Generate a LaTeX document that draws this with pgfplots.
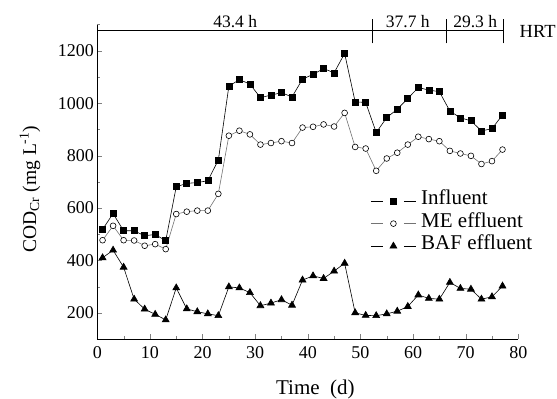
\documentclass[border=0pt]{standalone}
\usepackage{fontspec}
\setmainfont{Liberation Serif}
\usepackage{pgfplots}
\pgfplotsset{compat=1.18}
\begin{document}
\begin{tikzpicture}
\path[use as bounding box] (-97.3pt,-60pt) rectangle (459.7pt,339pt);
\begin{axis}[
  scale only axis, width=421pt, height=314.4pt,
  xmin=0, xmax=80, ymin=100, ymax=1300,
  axis lines*=left, tick align=inside, clip=false,
  xtick={0,10,...,80}, minor xtick={5,15,...,75},
  ytick={200,400,...,1200}, minor ytick={100,300,...,1300},
  major tick length=5pt, minor tick length=3pt,
  /pgf/number format/assume math mode=true,
  /pgf/number format/1000 sep={},
  tick label style={font=\fontsize{18}{18}\selectfont},
  xticklabel style={yshift=-4pt},
  xlabel={Time\enspace(d)},
  ylabel={COD\textsubscript{Cr} (mg L\textsuperscript{-1})},
  xlabel style={font=\fontsize{21}{21}\selectfont, at={(axis description cs:0.518,-0.175)}, anchor=base},
  ylabel style={font=\fontsize{19.5}{19.5}\selectfont, at={(axis description cs:-0.16,0.477)}, anchor=center},
  legend style={at={(axis cs:51.9,670)}, anchor=north west, draw=none, fill=none,
    font=\fontsize{21}{21}\selectfont, inner sep=0pt, row sep=0pt,
    nodes={inner sep=0pt, text height=15pt, text depth=7.5pt},
    cells={anchor=west}},
  legend image code/.code={
    \draw[mark=none] (0pt,0pt) -- (12pt,0pt) (33pt,0pt) -- (45pt,0pt);
    \draw plot[only marks] coordinates {(22.5pt,0pt)};
    \path (50pt,0pt);
  },
]
\addplot[black, line width=0.6pt, mark=square*, mark size=3pt, mark options={solid}] coordinates {
(1,518) (3,579) (5,513) (7,513) (9,494) (11,499) (13,475) (15,681) (17,694) (19,697)
(21,704) (23,783) (25,1065) (27,1090) (29,1073) (31,1021) (33,1031) (35,1040) (37,1024) (39,1092)
(41,1110) (43,1132) (45,1116) (47,1190) (49,1005) (51,1003) (53,888) (55,945) (57,977) (59,1018)
(61,1060) (63,1050) (65,1044) (67,970) (69,944) (71,933) (73,894) (75,903) (77,955)};
\addlegendentry{Influent}
\addplot[black!55, line width=0.6pt, mark=*, mark size=2.9pt, mark options={fill=white, draw=black}] coordinates {
(1,477) (3,532) (5,477) (7,476) (9,456) (11,462) (13,443) (15,577) (17,586) (19,590)
(21,590) (23,654) (25,876) (27,895) (29,881) (31,842) (33,848) (35,855) (37,848) (39,907)
(41,910) (43,919) (45,911) (47,963) (49,833) (51,827) (53,742) (55,789) (57,811) (59,842)
(61,872) (63,863) (65,855) (67,818) (69,808) (71,799) (73,768) (75,779) (77,823)};
\addlegendentry{ME effluent}
\addplot[black, line width=0.6pt, mark=triangle*, mark size=4pt] coordinates {
(1,410) (3,439) (5,374) (7,252) (9,214) (11,194) (13,173) (15,295) (17,215) (19,204)
(21,196) (23,189) (25,299) (27,295) (29,277) (31,227) (33,237) (35,250) (37,229) (39,325)
(41,341) (43,331) (45,359) (47,389) (49,200) (51,190) (53,189) (55,196) (57,206) (59,224)
(61,268) (63,255) (65,252) (67,316) (69,293) (71,290) (73,252) (75,261) (77,302)};
\addlegendentry{BAF effluent}
\draw[line width=0.8pt] (axis cs:0,1278) -- (axis cs:77.2,1278);
\draw[line width=0.8pt] (axis cs:52.3,1228) -- (axis cs:52.3,1322);
\draw[line width=0.8pt] (axis cs:66.3,1228) -- (axis cs:66.3,1322);
\draw[line width=0.8pt] (axis cs:77.2,1228) -- (axis cs:77.2,1322);
\node[anchor=south, font=\fontsize{17.5}{17.5}\selectfont, inner sep=2pt] at (axis cs:26.2,1280) {43.4 h};
\node[anchor=south, font=\fontsize{17.5}{17.5}\selectfont, inner sep=2pt] at (axis cs:59.0,1280) {37.7 h};
\node[anchor=south, font=\fontsize{17.5}{17.5}\selectfont, inner sep=2pt] at (axis cs:71.8,1280) {29.3 h};
\node[anchor=west, font=\fontsize{18.5}{18.5}\selectfont] at (axis cs:79.6,1272) {HRT};
\end{axis}
\end{tikzpicture}
\end{document}
